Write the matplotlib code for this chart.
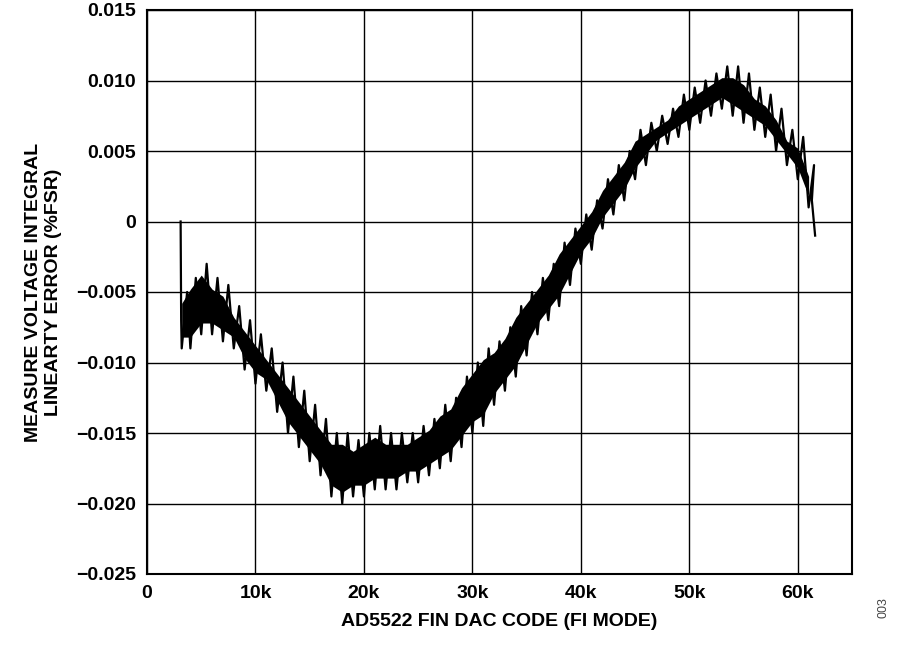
import matplotlib
matplotlib.use("Agg")
import matplotlib.pyplot as plt

codes_k = [3.2,4,5,6,7,8,9,10,11,12,13,14,15,16,17,18,19,20,21,22,23,24,25,26,27,28,29,30,
           31,32,33,34,35,36,37,38,39,40,41,42,43,44,45,46,47,48,49,50,51,52,53,54,55,56,57,58,59,60,61]
low = [-0.009,-0.009,-0.008,-0.008,-0.0085,-0.009,-0.0105,-0.0115,-0.012,-0.0135,-0.015,-0.016,-0.017,-0.018,
       -0.0195,-0.020,-0.0195,-0.0195,-0.019,-0.019,-0.019,-0.0185,-0.0185,-0.018,-0.0175,-0.017,-0.016,-0.015,
       -0.0145,-0.013,-0.012,-0.011,-0.0095,-0.008,-0.007,-0.006,-0.0045,-0.003,-0.002,-0.0005,0.0005,0.0015,
       0.003,0.004,0.005,0.0055,0.006,0.0065,0.007,0.0075,0.008,0.0075,0.007,0.0065,0.006,0.005,0.004,0.003,0.001]
high = [-0.005,-0.004,-0.003,-0.004,-0.0045,-0.006,-0.007,-0.008,-0.009,-0.010,-0.011,-0.012,-0.013,-0.014,
        -0.015,-0.015,-0.0155,-0.015,-0.0145,-0.015,-0.015,-0.015,-0.0145,-0.014,-0.013,-0.0125,-0.011,-0.010,
        -0.009,-0.0085,-0.0075,-0.006,-0.005,-0.004,-0.003,-0.0015,-0.0005,0.0005,0.0015,0.003,0.004,0.005,
        0.0065,0.007,0.0075,0.008,0.009,0.0095,0.010,0.0105,0.011,0.011,0.0105,0.0095,0.009,0.008,0.0065,0.006,0.004]
start_spike = [0.0, -0.007]
end_tail = [0.0015, -0.001]

xs = [3100, 3150]
ys = list(start_spike)
for k, lo, hi in zip(codes_k, low, high):
    xs += [k * 1000, k * 1000 + 500]
    ys += [lo, hi]
xs += [61300, 61600]
ys += end_tail

band_x = [k * 1000 for k in codes_k]
# shrink band slightly inward so the outer peaks stay visible
band_lo = [l + 0.0008 for l in low]
band_hi = [h - 0.0008 for h in high]

plt.rcParams['font.family'] = ['Liberation Sans', 'DejaVu Sans']
plt.rcParams['font.weight'] = 'bold'
fig = plt.figure(figsize=(9, 6.54), dpi=100)
ax = fig.add_axes([147/900, 80/654, 705/900, 564/654])
ax.fill_between(band_x, band_lo, band_hi, color='black', lw=0)
ax.plot(xs, ys, color='black', lw=1.6)
ax.set_xlim(0, 65000)
ax.set_ylim(-0.025, 0.015)
ax.set_xticks([0,10000,20000,30000,40000,50000,60000])
ax.set_xticklabels(['0','10k','20k','30k','40k','50k','60k'])
yt = [-0.025,-0.020,-0.015,-0.010,-0.005,0,0.005,0.010,0.015]
ax.set_yticks(yt)
ax.set_yticklabels(['\u22120.025','\u22120.020','\u22120.015','\u22120.010','\u22120.005','0','0.005','0.010','0.015'])
ax.grid(True, color='black', lw=1)
for s in ax.spines.values():
    s.set_linewidth(1.5)
ax.tick_params(labelsize=14, length=0, pad=8)
ax.set_xlabel('AD5522 FIN DAC CODE (FI MODE)', fontsize=14, fontweight='bold', labelpad=8)
ax.set_ylabel('MEASURE VOLTAGE INTEGRAL\nLINEARTY ERROR (%FSR)', fontsize=14, fontweight='bold', labelpad=10)
fig.text(0.975, 0.06, '003', rotation=90, fontsize=9, fontweight='normal', color='#444444')
fig.savefig('out.png', dpi=100)
